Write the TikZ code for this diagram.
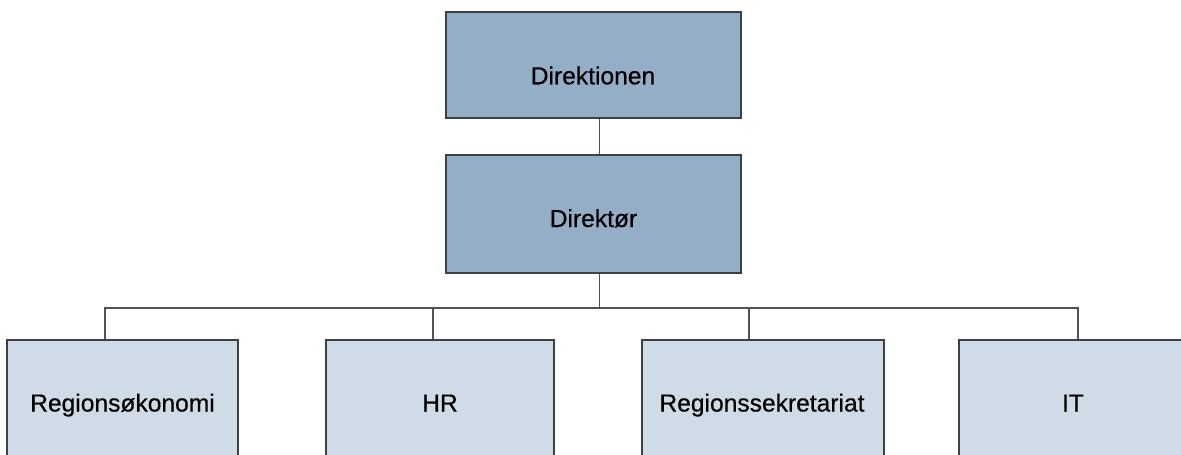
\documentclass[tikz,border=0pt]{standalone}
\usepackage{fontspec}
\setmainfont{Liberation Sans}
\newfontfamily\lblfont[FakeBold=0.45]{Liberation Sans}
\begin{document}
\begin{tikzpicture}[x=1pt,y=-1pt,
  boxline/.style={draw=black!75, line width=1.6pt},
  darkbox/.style={boxline, fill={rgb,255:red,149;green,174;blue,200}, rectangle, inner sep=0pt},
  lightbox/.style={boxline, fill={rgb,255:red,207;green,219;blue,231}, rectangle, inner sep=0pt},
  lbl/.style={anchor=base, inner sep=0pt, font=\lblfont\fontsize{24.6}{29}\selectfont, text=black},
  conn/.style={draw=black!68, line width=1.9pt}]
\useasboundingbox (0,0) rectangle (1181,455);
\clip (0,0) rectangle (1181,455);
\fill[white] (0,0) rectangle (1181,455);
% boxes
\node[darkbox, minimum width=295pt, minimum height=106pt] (top) at (593.5,65) {};
\node[darkbox, minimum width=295pt, minimum height=118pt] (dir) at (593.5,214) {};
\node[lightbox, minimum width=231pt, minimum height=125pt] (b1) at (122.5,402.5) {};
\node[lightbox, minimum width=228pt, minimum height=125pt] (b2) at (440,402.5) {};
\node[lightbox, minimum width=242pt, minimum height=125pt] (b3) at (763,402.5) {};
\node[lightbox, minimum width=228pt, minimum height=125pt] (b4) at (1073,402.5) {};
% labels
\node[lbl] (ltop) at (593,84.3) {Direktionen};
\node[lbl] (ldir) at (593.5,227) {Direktør};
\node[lbl] (l1) at (122.5,411.5) {Regionsøkonomi};
\node[lbl] (l2) at (440,411.5) {HR};
\node[lbl] (l3) at (762,411.5) {Regionssekretariat};
\node[lbl] (l4) at (1073,411.5) {IT};
% connectors
\draw[conn] ([xshift=6pt]top.south) -- ([xshift=6pt]dir.north);
\draw[conn] ([xshift=6pt]dir.south) -- ++(0,34) coordinate (bus);
\draw[conn] (bus) -| ([xshift=99pt]b1.north west);
\draw[conn] (bus) -| ([xshift=108pt]b2.north west);
\draw[conn] (bus) -| ([xshift=108pt]b3.north west);
\draw[conn] (bus) -| ([xshift=120pt]b4.north west);
\end{tikzpicture}
\end{document}
